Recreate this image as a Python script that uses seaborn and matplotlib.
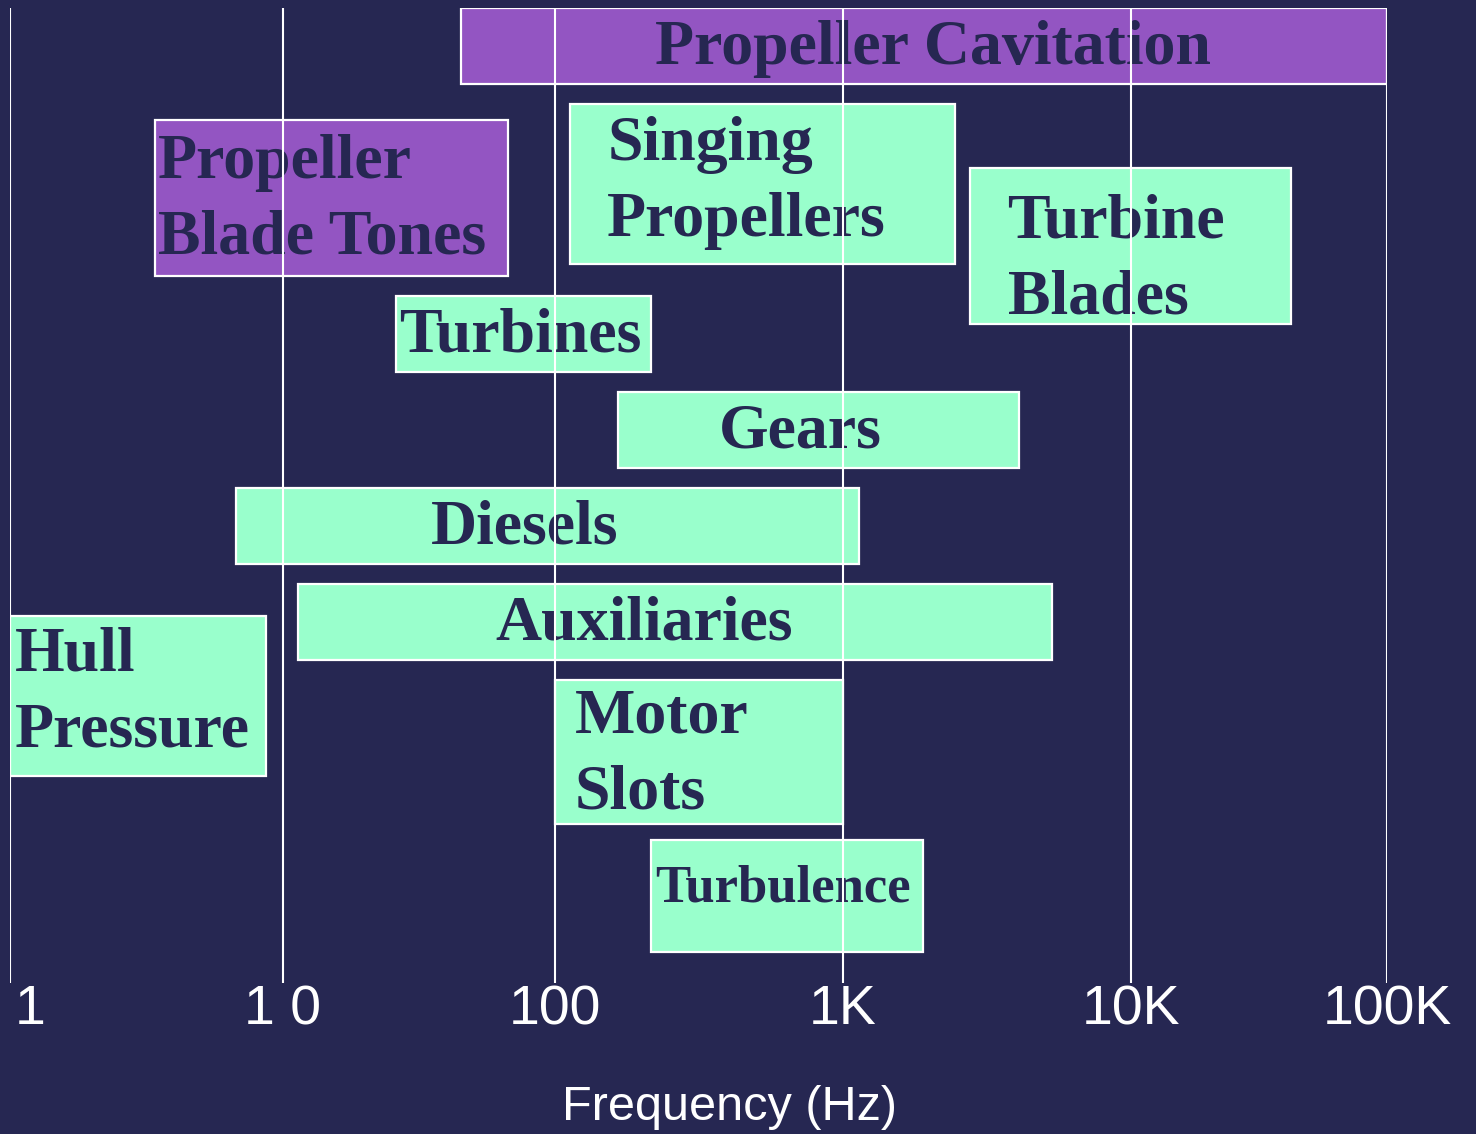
import matplotlib
matplotlib.use('Agg')
import matplotlib.pyplot as plt
import matplotlib.transforms as mtransforms
import numpy as np
import seaborn as sns

# Noise sources and their frequency ranges (Hz)
sources = ['Propeller Cavitation', 'Propeller\nBlade Tones', 'Singing\nPropellers',
           'Turbine\nBlades', 'Turbines', 'Gears', 'Diesels', 'Auxiliaries',
           'Hull\nPressure', 'Motor\nSlots', 'Turbulence']
freq_low = [45, 3.4, 113, 2750, 26, 165, 6.7, 11.4, 1, 100, 215]
freq_high = [100000, 67, 2450, 42000, 215, 4100, 1140, 5300, 8.7, 1000, 1900]
kind = ['prop', 'prop', 'mach', 'mach', 'mach', 'mach', 'mach', 'mach',
        'mach', 'mach', 'mach']

tick_vals = [1, 10, 100, 1000, 10000, 100000]
tick_labels = ['1', '1 0', '100', '1K', '10K', '100K']

# layout: lane top and span (in lane units), label placement (px)
lane_top = [0, 1.167, 1.0, 1.667, 3.0, 4.0, 5.0, 6.0, 6.333, 7.0, 8.667]
lane_span = [0.792, 1.625, 1.667, 1.625, 0.792, 0.792, 0.792, 0.792, 1.667, 1.5, 1.167]
label_align = ['center', 'left', 'left', 'left', 'left', 'center', 'center',
               'center', 'left', 'left', 'left']
label_dx = [9, 3, 37, 38, 3, -18, -23, -31, 5, 20, 4]
label_dy = [0, 0, -4, 12, 0, 0, 0, 0, -5, 1, -10]
label_size = [46, 46, 46, 46, 46, 46, 46, 46, 46, 46, 38]

# the hand-drawn decades are not evenly spaced
decade_pos = [0, 273, 545, 833, 1121, 1377]


def fwd(x):
    x = np.clip(np.asarray(x, dtype=float), 1e-3, None)
    return np.interp(np.log10(x), np.arange(6), decade_pos, left=-1e3, right=2e3)


def inv(v):
    return 10 ** np.interp(v, decade_pos, np.arange(6))


bg = '#262752'
colors = {'prop': '#9355c2', 'mach': '#99ffcc'}

sns.set_style('dark', {'axes.facecolor': bg, 'figure.facecolor': bg})

fig = plt.figure(figsize=(14.76, 11.34), dpi=100)
ax = fig.add_axes([10 / 1476, 1 - 983 / 1134, 1377 / 1476, 975 / 1134])
ax.set_facecolor(bg)
ax.set_xscale('function', functions=(fwd, inv))

for i, name in enumerate(sources):
    y = lane_top[i] + lane_span[i] / 2
    ax.barh(y, freq_high[i] - freq_low[i], left=freq_low[i], height=lane_span[i],
            color=colors[kind[i]], edgecolor='white', linewidth=1.6, zorder=2)
    if label_align[i] == 'center':
        xy = (float(inv((fwd(freq_low[i]) + fwd(freq_high[i])) / 2)), y)
    else:
        xy = (freq_low[i], y)
    ax.annotate(name, xy=xy, xytext=(label_dx[i] * 0.72, -2 - label_dy[i] * 0.72),
                textcoords='offset points',
                ha=label_align[i], va='center', fontsize=label_size[i],
                fontweight='bold', family='Liberation Serif', color=bg,
                linespacing=1.41, zorder=3)

for v in tick_vals:
    ax.axvline(v, color='white', linewidth=1.5, zorder=5)

ax.set_xlim(1, 100000)
ax.set_ylim(10.156, 0)
ax.set_yticks([])
ax.xaxis.set_major_locator(matplotlib.ticker.FixedLocator(tick_vals))
ax.xaxis.set_minor_locator(matplotlib.ticker.NullLocator())
ax.set_xticklabels(tick_labels, fontsize=40, family='Liberation Sans', color='white')
ax.tick_params(axis='x', length=0, pad=1)
first = ax.xaxis.get_major_ticks()[0].label1
first.set_ha('left')
first.set_transform(first.get_transform() +
                    mtransforms.ScaledTranslation(0.05, 0, fig.dpi_scale_trans))
ax.grid(False)
sns.despine(ax=ax, left=True, bottom=True)

fig.text(729 / 1476, 1 - 1107 / 1134, 'Frequency (Hz)', ha='center', va='center',
         fontsize=35, family='Liberation Sans', color='white')

fig.savefig('out.png', dpi=100, facecolor=bg)
